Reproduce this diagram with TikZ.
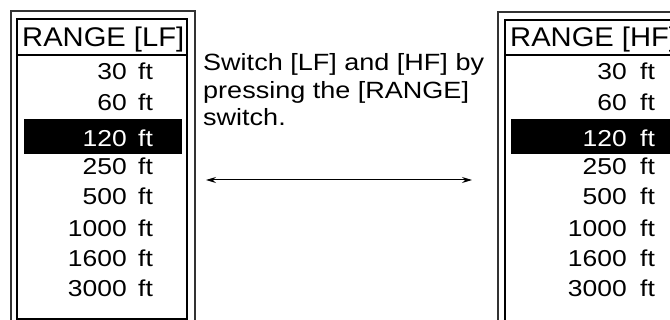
\documentclass[tikz,border=0pt]{standalone}
\usepackage{fontspec}
\setmainfont{Liberation Sans}
\newfontfamily\widefont[FakeStretch=1.15]{Liberation Sans}
\newfontfamily\hdrfont[FakeStretch=1.08]{Liberation Sans}
\usetikzlibrary{arrows.meta}
\begin{document}
\begin{tikzpicture}[x=1pt,y=-1pt,
  frame/.style={draw=black, line width=1.1pt},
  outerframe/.style={draw=black!80, line width=1.3pt},
  num/.style={anchor=base east, inner sep=0pt, font=\widefont\fontsize{23}{27}\selectfont},
  unit/.style={anchor=base west, inner sep=0pt, font=\widefont\fontsize{23}{27}\selectfont},
  hdr/.style={anchor=base west, inner sep=0pt, font=\hdrfont\fontsize{27}{30}\selectfont},
  note/.style={anchor=base west, inner sep=0pt, font=\widefont\fontsize{23.5}{27}\selectfont},
  band/.style={fill=black, draw=none},
  swarrow/.style={{Stealth[length=10pt,width=6pt]}-{Stealth[length=10pt,width=6pt]}, line width=1pt}]
\useasboundingbox (0,0) rectangle (670,320);
\clip (0,0) rectangle (670,320);
% left panel
\draw[outerframe] (11,11) rectangle (195,340);
\draw[frame] (17,19) rectangle (187,319);
\draw[frame] (17,55) -- (187,55);
\node[hdr] (lhdr) at (22,47) {RANGE [LF]};
\fill[band] (24,119) rectangle (182,154);
\foreach \v/\y/\c [count=\i] in {30/80/black,60/111/black,120/147/white,250/175/black,500/205/black,1000/237/black,1600/267/black,3000/297/black}{
  \node[num,text=\c] (ln\i) at (127,\y) {\v};
  \node[unit,text=\c] (lu\i) at (138,\y) {ft};
}
% right panel
\draw[outerframe] (498,12) rectangle (700,340);
\draw[frame] (505,20) rectangle (700,330);
\draw[frame] (505,55) -- (700,55);
\node[hdr] (rhdr) at (510,47) {RANGE [HF]};
\fill[band] (511,119) rectangle (700,154);
\foreach \v/\y/\c [count=\i] in {30/80/black,60/111/black,120/147/white,250/175/black,500/205/black,1000/237/black,1600/267/black,3000/297/black}{
  \node[num,text=\c] (rn\i) at (627,\y) {\v};
  \node[unit,text=\c] (ru\i) at (640,\y) {ft};
}
% middle text
\node[note] (t1) at (203,71) {Switch [LF] and [HF] by};
\node[note] (t2) at (203,98.5) {pressing the [RANGE]};
\node[note] (t3) at (203,126) {switch.};
\coordinate (al) at (206,180);
\coordinate (ar) at (472,180);
\draw[swarrow] (al) -- (ar);
\end{tikzpicture}
\end{document}
